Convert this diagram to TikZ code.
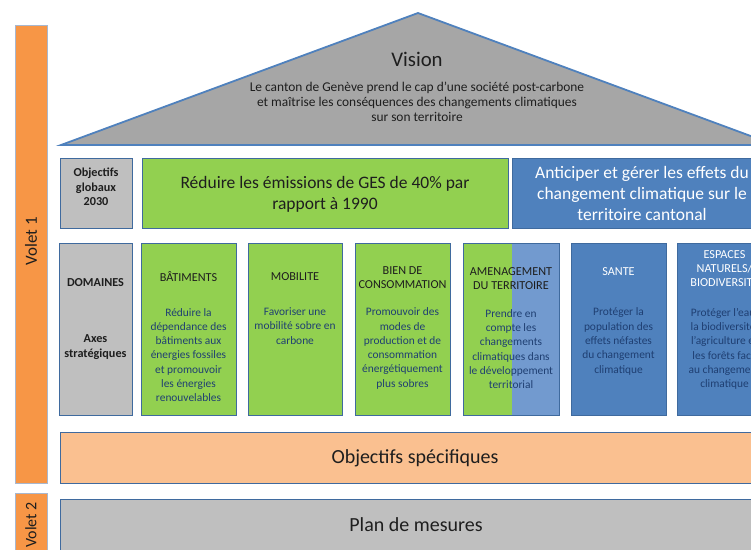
\documentclass[tikz,border=0pt]{standalone}
\usepackage{fontspec}
\setmainfont{Carlito}
\definecolor{voletor}{HTML}{F79646}
\definecolor{voletbd}{HTML}{A7B7CF}
\definecolor{bdblue}{HTML}{3F6A9E}
\definecolor{trigray}{HTML}{A6A6A6}
\definecolor{trired}{HTML}{4F81BD}
\definecolor{boxgray}{HTML}{BFBFBF}
\definecolor{boxgreen}{HTML}{92D050}
\definecolor{boxblue}{HTML}{4F81BD}
\definecolor{boxlblue}{HTML}{729ACF}
\definecolor{boxpeach}{HTML}{FAC090}
\definecolor{descblue}{HTML}{1F3F72}
\definecolor{txtdark}{HTML}{1E1E1E}
\tikzset{
  box/.style={draw=bdblue, line width=1.4pt, inner sep=0pt, anchor=north west},
  volet/.style={draw=voletbd, line width=1pt, fill=voletor, inner sep=0pt, anchor=north west},
  ttl/.style={align=center, inner sep=0pt, text=txtdark, font=\fontsize{12.2}{14}\selectfont},
  wttl/.style={ttl, text=white},
  desc/.style={align=center, inner sep=0pt, text=descblue, font=\fontsize{11.4}{14.3}\selectfont},
  side/.style={align=center, inner sep=0pt, text=txtdark, font=\bfseries\fontsize{12.2}{14.5}\selectfont},
  big/.style={align=center, inner sep=0pt, text=txtdark, font=\fontsize{17.5}{21}\selectfont},
}
\begin{document}
\begin{tikzpicture}[x=1pt,y=-1pt]
\useasboundingbox (0,0) rectangle (751,549);
\clip (0,0) rectangle (751,549);

% Volet bars
\node[volet, minimum width=32pt, minimum height=458pt] (volet1) at (15,25) {};
\node[rotate=90, text=txtdark, font=\fontsize{17}{20}\selectfont, inner sep=0pt] (volet1t) at (31,241) {Volet 1};
\node[volet, minimum width=32pt, minimum height=70pt] (volet2) at (15,493) {};
\node[rotate=90, text=txtdark, font=\fontsize{16}{19}\selectfont, inner sep=0pt] (volet2t) at (31,525) {Volet 2};

% Roof
\coordinate (tl) at (61,145);
\coordinate (tt) at (418,13);
\coordinate (tr) at (775,145);
\draw[fill=trigray, draw=trired, line width=1.8pt, line join=miter] (tl) -- (tt) -- (tr) -- cycle;
\node[inner sep=0pt, text=txtdark, font=\fontsize{20.8}{24}\selectfont] (vision) at (417,59) {Vision};
\node[align=center, inner sep=0pt, text=txtdark, font=\fontsize{13.4}{15}\selectfont] (visiont) at (417,102)
  {Le canton de Genève prend le cap d'une société post-carbone\\et maîtrise les conséquences des changements climatiques\\sur son territoire};

% Row 2
\node[box, fill=boxgray, minimum width=72pt, minimum height=70pt] (objg) at (60,158) {};
\node[side] (objgt) at (96,187) {Objectifs\\globaux\\2030};
\node[box, fill=boxgreen, minimum width=366pt, minimum height=70pt] (red) at (142,158) {};
\node[big] (redt) at (325,194.5) {Réduire les émissions de GES de 40\% par\\rapport à 1990};
\node[box, fill=boxblue, minimum width=263pt, minimum height=70pt] (ant) at (512,158) {};
\node[big, text=white] (antt) at (642,193) {Anticiper et gérer les effets du\\changement climatique sur le\\territoire cantonal};

% Row 3
\node[box, fill=boxgray, minimum width=73pt, minimum height=172pt] (dom) at (59,243) {};
\node[side] (domt) at (95.5,283) {DOMAINES};
\node[side] (axt) at (95.5,347) {Axes\\stratégiques};

\node[box, fill=boxgreen, minimum width=95pt, minimum height=172pt] (bat) at (141,243) {};
\node[ttl] (batt) at (188.5,277) {BÂTIMENTS};
\node[desc] (batd) at (188.5,355) {Réduire la\\dépendance des\\bâtiments aux\\énergies fossiles\\et promouvoir\\les énergies\\renouvelables};

\node[box, fill=boxgreen, minimum width=94pt, minimum height=172pt] (mob) at (248,243) {};
\node[ttl] (mobt) at (295,277) {MOBILITE};
\node[desc] (mobd) at (295,326) {Favoriser une\\mobilité sobre en\\carbone};

\node[box, fill=boxgreen, minimum width=95pt, minimum height=172pt] (bien) at (355,243) {};
\node[ttl] (bient) at (402.5,278) {BIEN DE\\CONSOMMATION};
\node[desc] (biend) at (402.5,348.5) {Promouvoir des\\modes de\\production et de\\consommation\\énergétiquement\\plus sobres};

\fill[boxgreen] (463,243) rectangle (512,415);
\fill[boxlblue] (512,243) rectangle (559,415);
\node[box, minimum width=96pt, minimum height=172pt] (amen) at (463,243) {};
\node[ttl] (ament) at (511,279) {AMENAGEMENT\\DU TERRITOIRE};
\node[desc] (amend) at (511,349) {Prendre en\\compte les\\changements\\climatiques dans\\le développement\\territorial};

\node[box, fill=boxblue, minimum width=95pt, minimum height=172pt] (sante) at (571,243) {};
\node[wttl] (santet) at (618.5,272) {SANTE};
\node[desc] (santed) at (618.5,341.5) {Protéger la\\population des\\effets néfastes\\du changement\\climatique};

\node[box, fill=boxblue, minimum width=95pt, minimum height=172pt] (esp) at (677,243) {};
\node[wttl] (espt) at (724.5,269) {ESPACES\\NATURELS/\\BIODIVERSITE};
\node[desc] (espd) at (724.5,349) {Protéger l'eau,\\la biodiversité,\\l'agriculture et\\les forêts face\\au changement\\climatique};

% Row 4 and 5
\node[box, fill=boxpeach, minimum width=715pt, minimum height=51pt] (objs) at (60,432) {};
\node[big, font=\fontsize{20}{22}\selectfont] (objst) at (415,458) {Objectifs spécifiques};
\node[box, fill=boxgray, minimum width=715pt, minimum height=65pt] (plan) at (60,499) {};
\node[big, font=\fontsize{20}{22}\selectfont] (plant) at (416,525) {Plan de mesures};
\end{tikzpicture}
\end{document}
